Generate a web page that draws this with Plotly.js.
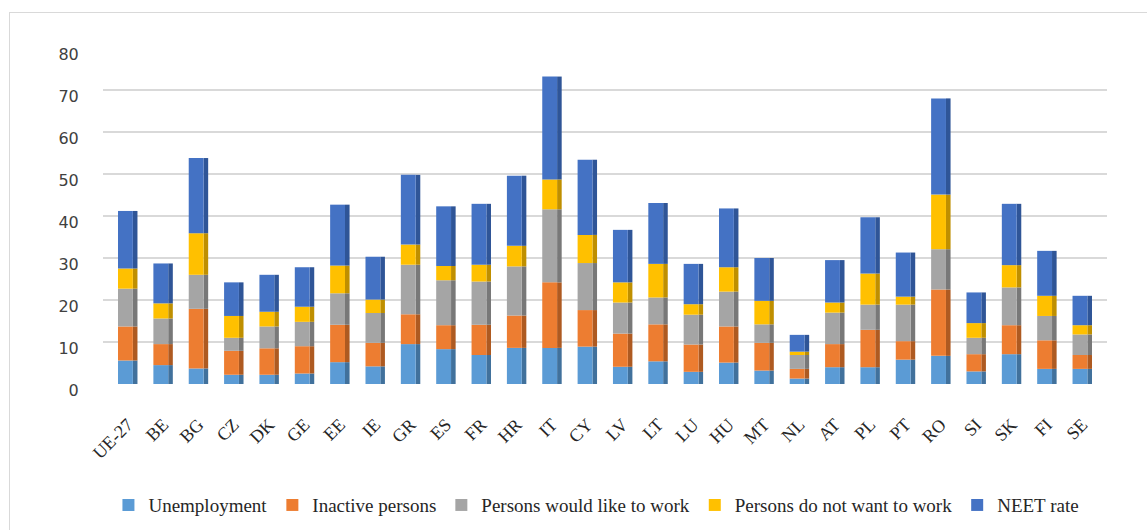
<!DOCTYPE html>
<html>
<head>
<meta charset="utf-8">
<script src="https://cdn.plot.ly/plotly-3.0.1.min.js"></script>
<style>
  html, body { margin: 0; padding: 0; background: #ffffff; }
  #chart { width: 1147px; height: 530px; }
  #frame { position: absolute; left: 9px; top: 12px; width: 1160px; height: 540px;
           border: 1.5px solid #d9d9d9; pointer-events: none; }
</style>
</head>
<body>
<div id="chart"></div>
<div id="frame"></div>
<script>
const categories = ["UE-27","BE","BG","CZ","DK","GE","EE","IE","GR","ES","FR","HR","IT","CY","LV","LT","LU","HU","MT","NL","AT","PL","PT","RO","SI","SK","FI","SE"];

const unemployment      = [5.6, 4.5, 3.7, 2.2, 2.2, 2.5, 5.2, 4.2, 9.5, 8.3, 6.9, 8.6, 8.6, 8.9, 4.1, 5.4, 2.9, 5.1, 3.2, 1.3, 4.0, 4.0, 5.8, 6.7, 3.0, 7.1, 3.6, 3.6];
const inactivePersons   = [8.1, 5.0, 14.2, 5.7, 6.3, 6.5, 8.9, 5.6, 7.1, 5.7, 7.2, 7.7, 15.6, 8.7, 7.9, 8.8, 6.5, 8.6, 6.6, 2.3, 5.5, 8.9, 4.4, 15.8, 4.1, 6.9, 6.8, 3.3];
const wouldLikeToWork   = [9.0, 6.1, 8.1, 3.1, 5.2, 5.8, 7.5, 7.1, 11.8, 10.7, 10.3, 11.7, 17.4, 11.2, 7.4, 6.4, 7.1, 8.3, 4.4, 3.3, 7.5, 6.0, 8.7, 9.6, 3.9, 9.0, 5.8, 4.9];
const notWantToWork     = [4.8, 3.6, 9.9, 5.2, 3.5, 3.6, 6.6, 3.2, 4.8, 3.4, 4.0, 4.9, 7.1, 6.7, 4.8, 8.0, 2.5, 5.8, 5.6, 0.8, 2.4, 7.4, 1.9, 13.0, 3.5, 5.3, 4.8, 2.2];
const neetRate          = [13.7, 9.5, 17.9, 8.0, 8.8, 9.4, 14.5, 10.2, 16.6, 14.2, 14.5, 16.7, 24.5, 17.9, 12.5, 14.5, 9.6, 14.0, 10.2, 4.0, 10.1, 13.4, 10.5, 22.9, 7.3, 14.6, 10.7, 7.0];

const seriesNames  = ["Unemployment", "Inactive persons", "Persons would like to work", "Persons do not want to work", "NEET rate"];
const seriesValues = [unemployment, inactivePersons, wouldLikeToWork, notWantToWork, neetRate];
const frontColors  = ["#5B9BD5", "#ED7D31", "#A5A5A5", "#FFC000", "#4472C4"];
const sideColors   = ["#41719C", "#AE5A21", "#787878", "#BF8F00", "#2F5597"];

const traces = [];
const sideTraces = [];
let cumulative = categories.map(() => 0);
seriesValues.forEach((vals, i) => {
  const base = cumulative.slice();
  sideTraces.push({
    type: "bar", x: categories, y: vals, base: base,
    offset: 0.145, width: 0.13,
    marker: { color: sideColors[i], line: { width: 0 } },
    showlegend: false, hoverinfo: "skip"
  });
  traces.push({
    type: "bar", name: seriesNames[i], x: categories, y: vals, base: base,
    offset: -0.275, width: 0.42,
    marker: { color: frontColors[i], line: { width: 0 } }
  });
  cumulative = cumulative.map((c, k) => c + vals[k]);
});

const layout = {
  width: 1147, height: 530,
  margin: { l: 103, r: 40, t: 48, b: 146, autoexpand: false },
  paper_bgcolor: "#ffffff", plot_bgcolor: "#ffffff",
  barmode: "overlay",
  showlegend: true,
  legend: {
    orientation: "h", x: 0.52, xref: "container", xanchor: "center",
    y: 0.047, yref: "container", yanchor: "middle",
    font: { family: "Liberation Serif", size: 19, color: "#262626" },
    itemwidth: 30, tracegroupgap: 0, traceorder: "normal"
  },
  xaxis: {
    type: "category", range: [-0.7, 27.7],
    tickangle: -45, showgrid: false, zeroline: false, showline: false,
    ticks: "outside", ticklen: 22, tickcolor: "rgba(0,0,0,0)",
    tickfont: { family: "Liberation Serif", size: 18, color: "#262626" }
  },
  yaxis: {
    range: [0, 80], dtick: 10, showgrid: true, gridcolor: "#d9d9d9", gridwidth: 1.5,
    zeroline: false, showline: false,
    ticks: "outside", ticklen: 20, tickcolor: "rgba(0,0,0,0)",
    ticklabelshift: 6,
    tickfont: { family: "DejaVu Sans", size: 16, color: "#404040" }
  }
};

Plotly.newPlot("chart", sideTraces.concat(traces), layout, { displayModeBar: false, staticPlot: true });
</script>
</body>
</html>
